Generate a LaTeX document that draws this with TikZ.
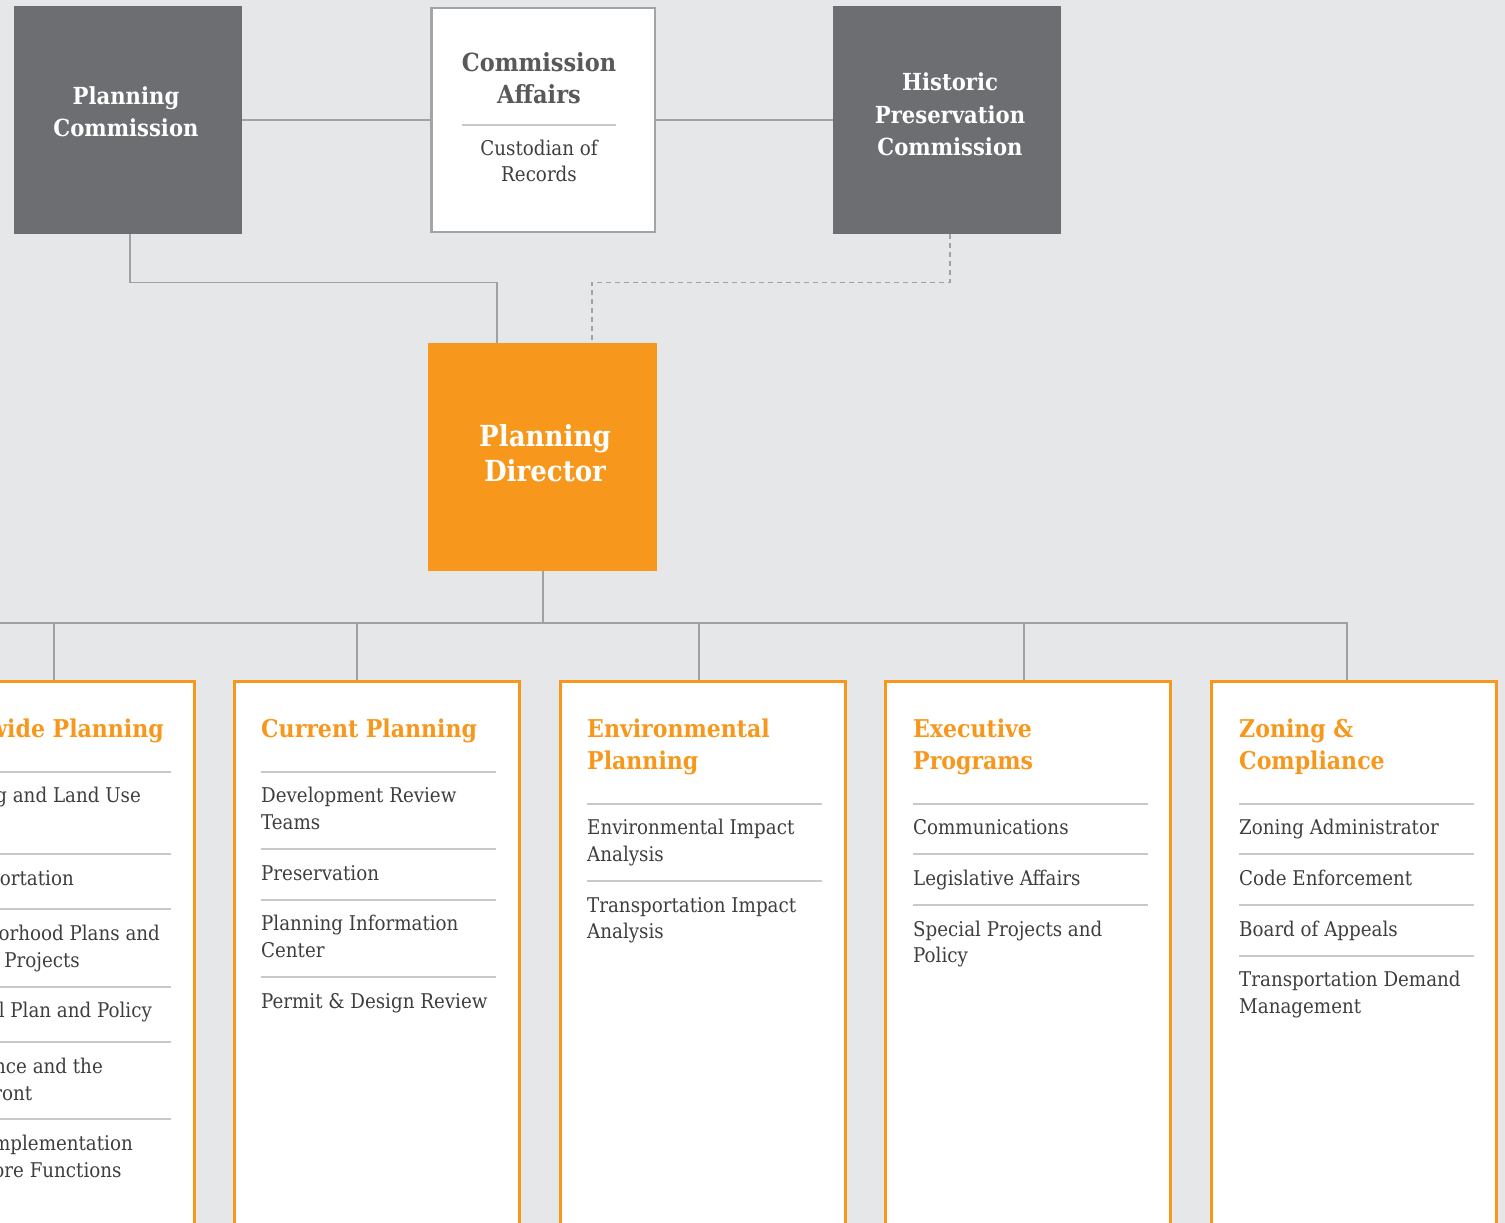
\documentclass[tikz,border=0pt]{standalone}
\usepackage{fontspec}
\setmainfont{DejaVu Serif Condensed}
\definecolor{bgc}{HTML}{E6E7E9}
\definecolor{slate}{HTML}{6D6E71}
\definecolor{orng}{HTML}{F7981D}
\definecolor{linec}{HTML}{A0A1A4}
\definecolor{cagray}{HTML}{A3A4A7}
\definecolor{sepc}{HTML}{C8C9CB}
\definecolor{txt}{HTML}{3D3E40}
\definecolor{catxt}{HTML}{58595B}
\tikzset{
  darkbox/.style={fill=slate, draw=none, inner sep=0pt, minimum width=228pt, minimum height=228pt},
  cabox/.style={fill=white, draw=cagray, line width=2.5pt, inner sep=0pt, minimum width=223.5pt, minimum height=223.5pt},
  dirbox/.style={fill=orng, draw=none, inner sep=0pt, minimum width=229pt, minimum height=228pt},
  unitbox/.style={fill=white, draw=orng, line width=3pt, inner sep=0pt, minimum width=285pt, minimum height=620pt},
  conn/.style={draw=linec, line width=1.4pt},
  dconn/.style={conn, dash pattern=on 5pt off 4pt},
  sepline/.style={draw=sepc, line width=1.4pt},
  toptxt/.style={font=\fontsize{23.5}{28}\selectfont\bfseries, text=white, anchor=base, inner sep=0pt},
  catitle/.style={font=\fontsize{25}{30}\selectfont\bfseries, text=catxt, anchor=base, inner sep=0pt},
  casub/.style={font=\fontsize{20.3}{26}\selectfont, text=txt, anchor=base, inner sep=0pt},
  dirtxt/.style={font=\fontsize{29}{34}\selectfont\bfseries, text=white, anchor=base, inner sep=0pt},
  headtxt/.style={font=\fontsize{24.5}{30}\selectfont\bfseries, text=orng, anchor=base west, inner sep=0pt},
  itemtxt/.style={font=\fontsize{20.3}{26}\selectfont, text=txt, anchor=base west, inner sep=0pt},
  clipitem/.style={itemtxt, anchor=base east},
  nextline/.style={itemtxt, yshift=-27pt},
}
\begin{document}
\begin{tikzpicture}[x=1pt,y=-1pt]
\useasboundingbox (0,0) rectangle (1505,1223);
\clip (0,0) rectangle (1505,1223);
\fill[bgc] (0,0) rectangle (1505,1223);

% ---- commissions and director ----
\node[darkbox] (pc) at (128,120) {};
\node[cabox] (ca) at (543,120) {};
\node[darkbox] (hpc) at (947,120) {};
\node[dirbox] (dir) at (542.5,457) {};

\node[toptxt] (pc1) at (126,104) {Planning};
\node[toptxt] (pc2) at (126,136) {Commission};

\node[catitle] (ca1) at (539,71) {Commission};
\node[catitle] (ca2) at (539,103) {Affairs};
\draw[sepline] (462,125) -- (616,125);
\node[casub] (ca3) at (539,155) {Custodian of};
\node[casub] (ca4) at (539,181) {Records};

\node[toptxt] (hpc1) at (950,91) {Historic};
\node[toptxt] (hpc2) at (950,123) {Preservation};
\node[toptxt] (hpc3) at (950,155) {Commission};

\node[dirtxt] (dir1) at (545,446) {Planning};
\node[dirtxt] (dir2) at (545,481) {Director};

% ---- upper connectors ----
\draw[conn] (pc.east) -- (ca.west);
\draw[conn] (ca.east) -- (hpc.west);
\draw[conn] ([xshift=2pt]pc.south) -- ++(0,48) -| ([xshift=-45.5pt]dir.north);
\draw[dconn] ([xshift=3pt]hpc.south) -- ++(0,48) -| ([xshift=49.5pt]dir.north);

% ---- division boxes ----
\node[unitbox] (b1) at (52,991.5) {};
\node[unitbox] (b2) at (377,991.5) {};
\node[unitbox] (b3) at (702.5,991.5) {};
\node[unitbox] (b4) at (1028,991.5) {};
\node[unitbox] (b5) at (1354,991.5) {};

% ---- lower connectors ----
\coordinate (busL) at (-5,623);
\draw[conn] ([xshift=0.5pt]dir.south) -- ([xshift=0.5pt]dir.south |- busL);
\draw[conn] (busL) -| ([xshift=-7pt]b5.north);
\draw[conn] ([xshift=2pt]b1.north) -- ([xshift=2pt]b1.north |- busL);
\draw[conn] ([xshift=-20pt]b2.north) -- ([xshift=-20pt]b2.north |- busL);
\draw[conn] ([xshift=-3.5pt]b3.north) -- ([xshift=-3.5pt]b3.north |- busL);
\draw[conn] ([xshift=-4pt]b4.north) -- ([xshift=-4pt]b4.north |- busL);

% ---- Citywide Planning (runs off the left edge) ----
\node[headtxt, anchor=base east] (h1) at (164,737) {Citywide Planning};
\draw[sepline] (-64,772) -- (171,772);
\node[clipitem] (i11) at (141,802) {Housing and Land Use};
\node[nextline] (i11b) at (i11.base west) {Policy};
\draw[sepline] (-64,854) -- (171,854);
\node[clipitem] (i12) at (74,885) {Transportation};
\draw[sepline] (-64,909) -- (171,909);
\node[clipitem] (i13) at (160,940) {Neighborhood Plans and};
\node[nextline] (i13b) at (i13.base west) {Special Projects};
\draw[sepline] (-64,987) -- (171,987);
\node[clipitem] (i14) at (152,1017) {General Plan and Policy};
\draw[sepline] (-64,1042) -- (171,1042);
\node[clipitem] (i15) at (103,1073) {Resilience and the};
\node[nextline] (i15b) at (i15.base west) {Waterfront};
\draw[sepline] (-64,1119) -- (171,1119);
\node[clipitem] (i16) at (133,1150) {Plan Implementation};
\node[nextline] (i16b) at (i16.base west) {and Core Functions};

% ---- Current Planning ----
\node[headtxt] (h2) at (261,737) {Current Planning};
\draw[sepline] (261,772) -- (496,772);
\node[itemtxt] (i21) at (261,802) {Development Review};
\node[itemtxt] (i21b) at (261,829) {Teams};
\draw[sepline] (261,849) -- (496,849);
\node[itemtxt] (i22) at (261,880) {Preservation};
\draw[sepline] (261,900) -- (496,900);
\node[itemtxt] (i23) at (261,930) {Planning Information};
\node[itemtxt] (i23b) at (261,957) {Center};
\draw[sepline] (261,977) -- (496,977);
\node[itemtxt] (i24) at (261,1008) {Permit \& Design Review};

% ---- Environmental Planning ----
\node[headtxt] (h3) at (587,737) {Environmental};
\node[headtxt] (h3b) at (587,769) {Planning};
\draw[sepline] (587,804) -- (822,804);
\node[itemtxt] (i31) at (587,834) {Environmental Impact};
\node[itemtxt] (i31b) at (587,861) {Analysis};
\draw[sepline] (587,881) -- (822,881);
\node[itemtxt] (i32) at (587,912) {Transportation Impact};
\node[itemtxt] (i32b) at (587,938) {Analysis};

% ---- Executive Programs ----
\node[headtxt] (h4) at (913,737) {Executive};
\node[headtxt] (h4b) at (913,769) {Programs};
\draw[sepline] (913,804) -- (1148,804);
\node[itemtxt] (i41) at (913,834) {Communications};
\draw[sepline] (913,854) -- (1148,854);
\node[itemtxt] (i42) at (913,885) {Legislative Affairs};
\draw[sepline] (913,905) -- (1148,905);
\node[itemtxt] (i43) at (913,936) {Special Projects and};
\node[itemtxt] (i43b) at (913,962) {Policy};

% ---- Zoning & Compliance ----
\node[headtxt] (h5) at (1239,737) {Zoning \&};
\node[headtxt] (h5b) at (1239,769) {Compliance};
\draw[sepline] (1239,804) -- (1474,804);
\node[itemtxt] (i51) at (1239,834) {Zoning Administrator};
\draw[sepline] (1239,854) -- (1474,854);
\node[itemtxt] (i52) at (1239,885) {Code Enforcement};
\draw[sepline] (1239,905) -- (1474,905);
\node[itemtxt] (i53) at (1239,936) {Board of Appeals};
\draw[sepline] (1239,956) -- (1474,956);
\node[itemtxt] (i54) at (1239,986) {Transportation Demand};
\node[itemtxt] (i54b) at (1239,1013) {Management};
\end{tikzpicture}
\end{document}
